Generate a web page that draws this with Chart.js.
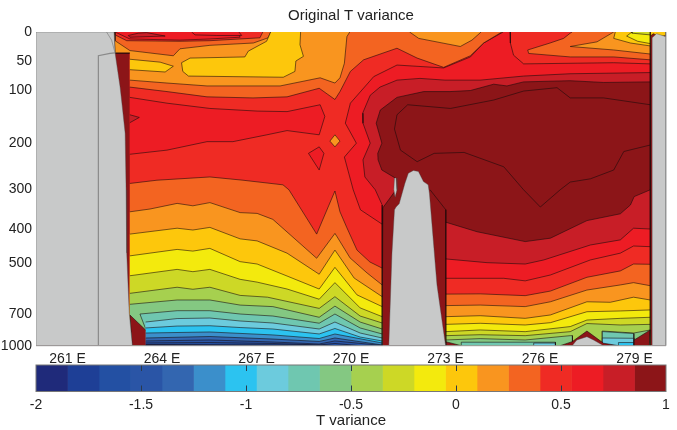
<!DOCTYPE html>
<html>
<head>
<meta charset="utf-8">
<title>Original T variance</title>
<script src="https://cdn.jsdelivr.net/npm/chart.js@4/dist/chart.umd.js"></script>
<style>
  body { margin: 0; background: #fff; }
  #wrap { position: relative; width: 677px; height: 430px; }
  canvas { position: absolute; left: 0; }
  #map { top: 0; }
  #bar { top: 360px; }
</style>
</head>
<body>
<div id="wrap">
  <canvas id="map" width="677" height="366"></canvas>
  <canvas id="bar" width="677" height="70"></canvas>
</div>
<script>
// colour bar
const levelColors = ['#1f2a7a', '#1e3f96', '#2350a3', '#2a55a6', '#3366b0', '#3b8fcb', '#2cc3f0',
    '#6ccbdd', '#6fc7b0', '#84c882', '#a6d04f', '#cdd826', '#f3ea0d', '#fdc70c', '#f9951f',
    '#f36421', '#ef2b24', '#ed1c24', '#c81e27', '#8c1518'];
const barEdges = [-2, -1.85, -1.7, -1.55, -1.4, -1.25, -1.1, -0.95, -0.8, -0.65, -0.5,
    -0.35, -0.2, -0.05, 0.1, 0.25, 0.4, 0.55, 0.7, 0.85, 1];

// axes
const lonTicks = [261, 264, 267, 270, 273, 276, 279];
const depthTicks = [0, 50, 100, 200, 300, 400, 500, 700, 1000];
const depthStretch = [0, 0.0924, 0.1849, 0.3529, 0.5005, 0.628, 0.7364, 0.899, 1];
// basin walls, contours end here without a stroke of their own
const wallLons = [262.98, 263.48, 270.99, 273.01, 279.5];

// contours as [lon, depth], warm first
const wholeSection = [[260, 0], [280, 0], [280, 1000], [260, 1000]];
const crimsonTop = [[262.48, 0], [279.5, 0], [279.5, 86], [278.02, 87], [276.95, 84], [275.48, 86], [274.95, 93], [274.53, 90], [273.79, 101], [273.14, 103], [272.31, 103], [271.46, 114], [270.93, 138], [270.8, 163], [270.98, 201], [270.85, 223], [270.86, 237], [270.98, 259], [271.4, 276], [271.43, 302], [271.01, 347], [270.99, 1000], [262.98, 1000], [262.98, 36], [262.51, 36]];
const crimsonRight = [[273.01, 383], [274, 408], [275.53, 437], [276.33, 427], [277.49, 379], [278.55, 362], [278.87, 340], [278.99, 319], [279.5, 302], [279.5, 1000], [273.01, 1000]];
const coreInner = [[279.5, 128], [278.02, 115], [276.96, 115], [276.54, 96], [275.48, 102], [274.53, 119], [273.16, 135], [271.8, 128], [271.46, 147], [271.38, 174], [271.57, 216], [272.1, 241], [272.64, 223], [273.59, 221], [274.85, 252], [275.48, 302], [276.01, 345], [276.64, 302], [276.96, 285], [277.6, 278], [278.34, 259], [278.66, 219], [279.5, 205]];
const brightTop = [[262.48, 0], [279.5, 0], [279.5, 70], [276.95, 72], [275.48, 76], [274.1, 83], [272.98, 83], [272.19, 80], [271.46, 83], [270.92, 95], [270.61, 110], [270.37, 144], [270.38, 163], [270.61, 201], [270.38, 237], [270.44, 274], [270.77, 302], [270.99, 340], [270.99, 1000], [262.98, 1000], [262.98, 36], [262.51, 36]];
const brightRight = [[273.01, 488], [274.32, 499], [275.53, 504], [276.12, 491], [277.6, 447], [278.55, 432], [278.97, 398], [279.5, 400]];
const redLeft = [[274.83, 0], [274.21, 19], [273.79, 43], [272.94, 62], [271.46, 57], [270.72, 77], [269.98, 125], [269.82, 163], [270.17, 201], [269.79, 231], [270.07, 302], [270.3, 352], [270.99, 388], [270.99, 1000], [262.98, 1000], [262.98, 36], [262.51, 36], [262.48, 0]];
const redTopRight = [[275.05, 0], [275.06, 19], [275.16, 40], [275.48, 55], [278.34, 53], [279.5, 55], [279.5, 0]];
const redRight = [[273.01, 560], [274.85, 560], [275.53, 570], [276.33, 547], [277.6, 491], [278.55, 471], [278.97, 450], [279.5, 452]];
const brightBlob = [[262.98, 114], [264.16, 125], [265.52, 135], [267.02, 140], [267.97, 141], [269.02, 128], [269.17, 150], [268.99, 185], [267.97, 177], [267.33, 185], [266.25, 198], [265.43, 198], [264.16, 216], [262.98, 225]];
const crimsonNotch = [[262.98, 147], [263.28, 152], [262.98, 162]];
const brightTriangle = [[268.65, 223], [268.99, 209], [269.14, 223], [268.99, 259]];
const orangeDiamond = [[269.33, 197], [269.49, 185], [269.65, 197], [269.49, 209]];

const level16Top = [[262.48, 0], [274.79, 0], [274.21, 19], [273.79, 41], [272.94, 61], [272.1, 45], [271.46, 28], [270.4, 48], [269.98, 68], [269.65, 103], [269.49, 118], [268.99, 97], [267.97, 113], [266.89, 115], [265.43, 113], [264.16, 103], [262.98, 95], [262.98, 36], [262.51, 36]];
const level16Tongue = [[275.61, 31], [276.32, 19], [276.75, 11], [276.96, 2], [277.02, 0], [279.5, 0], [279.5, 48], [278.34, 43], [276.96, 43], [275.64, 37]];
const level16Low = [[262.98, 288], [263.84, 281], [265.52, 274], [266.57, 281], [267.84, 291], [268.03, 302], [268.91, 415], [269.49, 305], [269.65, 357], [269.87, 397], [270.19, 462], [270.6, 497], [270.99, 520]];
const level16Right = [[273.01, 622], [274.1, 621], [275.53, 628], [276.33, 610], [277.49, 556], [278.55, 531], [278.97, 504], [279.5, 505]];

const level15Top = [[262.48, 0], [269.96, 0], [269.87, 8], [269.79, 54], [269.65, 79], [269.49, 88], [269.02, 79], [267.75, 93], [265.43, 93], [264.16, 88], [262.98, 83], [262.98, 36], [262.51, 36]];
const level15Blob = [[271.86, 0], [272.15, 11], [273.47, 25], [273.84, 14], [274.13, 0]];
const level15Tongue = [[276.96, 25], [277.81, 17], [278.34, 0], [279.5, 0], [279.5, 38], [278.34, 31]];
const level15Low = [[262.98, 357], [263.62, 350], [264.48, 336], [264.98, 342], [265.52, 334], [266.48, 359], [267.02, 361], [267.52, 376], [268.91, 486], [269.49, 413], [269.56, 423], [269.97, 485], [270.51, 539], [270.99, 586]];
const level15Right = [[273.01, 667], [274.1, 665], [275.53, 671], [276.33, 652], [277.49, 606], [278.55, 586], [278.97, 577], [279.5, 589]];

const surface16 = [[262.51, 0], [262.51, 15], [262.98, 32], [264.36, 41], [264.57, 29], [265.52, 23], [266.9, 19], [267.37, 10], [267.45, 0]];
const surface17 = [[262.51, 0], [262.51, 5], [262.88, 15], [264.57, 16], [265.52, 15], [267.11, 10], [267.2, 0]];
const surface18 = [[262.51, 0], [262.98, 12], [264.57, 14], [265.52, 12], [266.48, 9], [266.41, 0]];
const surface19 = [[262.93, 6], [263.25, 2], [263.51, 1], [264.1, 7], [262.98, 9]];
const surface18b = [[264.94, 0], [265.05, 5], [265.74, 6], [266.53, 6], [266.44, 0]];

const level14Big = [[267.45, 0], [267.32, 16], [266.74, 33], [266.63, 43], [264.89, 45], [264.62, 53], [264.66, 68], [264.84, 76], [267.85, 78], [268.22, 68], [268.25, 50], [268.49, 42], [268.38, 22], [268.4, 0]];
const level14Small = [[262.98, 47], [263.94, 52], [264.36, 59], [264.1, 69], [262.98, 65]];
const level14TopRight = [[278.39, 0], [278.34, 11], [278.87, 19], [279.5, 24], [279.5, 0]];
const level14Corner = [[279.5, 0], [280, 0], [280, 6], [279.8, 8], [279.6, 3], [279.5, 7]];
const level14Low = [[262.98, 415], [264.48, 398], [264.98, 403], [265.52, 396], [266.48, 429], [267.02, 435], [267.97, 471], [268.99, 544], [269.49, 462], [270.1, 559], [270.99, 632]];
const level14Right = [[273.01, 725], [274.1, 716], [275.53, 741], [276.33, 709], [277.49, 652], [278.23, 654], [278.97, 634], [279.5, 645]];

const level13TopRight = [[278.92, 0], [278.75, 7], [279.1, 16], [279.5, 20], [279.5, 0]];
const level13Low = [[262.98, 479], [264.48, 460], [264.98, 465], [265.52, 457], [266.48, 496], [267.02, 504], [267.97, 551], [268.99, 602], [269.49, 517], [270.19, 625], [270.99, 671]];
const level13Right = [[273.01, 798], [274.1, 788], [275.53, 804], [276.33, 782], [277.49, 691], [278.55, 688], [279.5, 684]];

const level12TopRight = [[278.92, 0], [278.92, 2], [279.5, 5], [279.5, 0]];
const level12Low = [[262.98, 550], [264.48, 525], [264.98, 534], [265.52, 525], [266.48, 564], [267.02, 575], [267.97, 602], [268.99, 642], [269.49, 577], [270.29, 676], [270.99, 725]];
const level12Right = [[273.01, 867], [274.1, 851], [275.53, 867], [276.96, 819], [277.49, 757], [278.55, 741], [279.5, 731]];

const level11Low = [[262.98, 619], [264.48, 595], [264.98, 603], [265.52, 595], [266.48, 627], [267.35, 634], [268.99, 678], [269.49, 632], [270.29, 719], [270.99, 785]];
const level11Right = [[273.01, 905], [274.1, 896], [275.53, 905], [276.96, 867], [277.49, 790], [278.55, 804], [279.5, 798]];

const level10Low = [[262.98, 662], [264.48, 645], [265.52, 645], [266.48, 665], [267.52, 671], [268.99, 731], [269.49, 669], [270.29, 776], [270.99, 842]];
const level10RightA = [[273.01, 946], [274.1, 933], [275.53, 946], [276.96, 905], [277.03, 905]];
const level10RightB = [[277.97, 861], [278.98, 880], [279.5, 851]];

const level9Low = [[263.48, 840], [263.3, 700], [264.48, 687], [265.52, 687], [266.48, 700], [267.52, 719], [268.99, 787], [269.49, 700], [270.29, 832], [270.99, 889]];
const level9RightA = [[273.5, 967], [276.49, 967]];
const level9RightB = [[277.98, 866], [278.98, 885]];
const level8Low = [[263.48, 776], [264.48, 743], [265.52, 738], [266.48, 766], [267.52, 785], [268.99, 842], [269.49, 776], [270.29, 880], [270.99, 927]];
const level8RightA = [[275.8, 975], [276.49, 975]];
const level8RightB = [[277.98, 927], [278.98, 930]];
const level7Low = [[263.48, 832], [264.48, 814], [265.52, 811], [266.48, 828], [267.52, 842], [268.99, 889], [269.49, 837], [270.29, 918], [270.99, 955]];
const level7RightB = [[278.49, 970], [278.98, 970]];
const level6Low = [[263.48, 880], [265.52, 870], [267.52, 898], [268.99, 932], [269.49, 889], [270.99, 974]];
const level5Low = [[263.48, 927], [265.52, 913], [267.52, 937], [268.99, 960], [269.49, 927], [270.99, 993]];
const level4Low = [[263.48, 955], [265.52, 946], [267.52, 965], [268.99, 984], [269.49, 955], [270.99, 998]];
const level3Low = [[263.48, 974], [265.52, 970], [267.52, 979], [268.99, 993], [269.49, 979], [270.29, 1000]];
const level2Low = [[263.48, 989], [268, 993], [270, 1000]];
const level1Low = [[263.48, 995], [268, 1000]];

// warm pockets sitting on the sea floor
const floorLeftPocket = [[262.98, 709], [263.48, 851], [263.48, 1000], [263.05, 1000]];
const floorPocketA = [[273.01, 962], [273.5, 1000], [273.01, 1000]];
const floorPocketB = [[276.64, 1000], [277.02, 962], [277.49, 861], [278.02, 977], [278.5, 1000]];
const floorPocketC = [[278.99, 1000], [278.99, 946], [279.5, 851], [279.47, 1000]];

// land
const landLeft = [[260, 0], [262.48, 0], [262.51, 36], [262.67, 95], [262.74, 132], [262.83, 182], [262.86, 302], [262.88, 470], [262.96, 696], [263.06, 1000], [260, 1000]];
const landRidge = [[271.2, 1000], [271.3, 472], [271.38, 352], [271.43, 345], [271.53, 337], [271.71, 288], [271.82, 266], [271.98, 260], [272.14, 262], [272.3, 284], [272.45, 291], [272.49, 311], [272.56, 378], [272.73, 586], [272.99, 974], [273.01, 1000]];
const landSliver = [[271.38, 276], [271.43, 276], [271.46, 302], [271.4, 320], [271.36, 302]];
const landBump = [[277.02, 1000], [277.17, 946], [277.49, 915], [277.7, 946], [278.02, 1000]];
const landRight = [[279.56, 1000], [279.56, 10], [279.7, 3], [280, 8], [280, 1000]];

// lines with no fill
const wallLeftRidge = [[270.99, 340], [270.99, 1000]];
const wallRightRidge = [[272.51, 302], [273.01, 352], [273.01, 1000]];
const wallEast = [[279.5, 0], [279.5, 1000]];
const shelfLineA = [[262.24, 0], [262.4, 14], [262.51, 36]];
const shelfLineB = [[262.51, 36], [262.35, 37], [261.98, 41], [261.98, 1000]];

const lineColor = 'rgba(25,10,10,0.72)';
const landColor = '#c8c9c9';

function toFloor(pts) {
    return pts.concat([[pts[pts.length - 1][0], 1000], [pts[0][0], 1000]]);
}

// painted in this order, [colour level, outline]
const layers = [
    [20, wholeSection],
    [19, crimsonTop], [19, crimsonRight], [20, coreInner],
    [18, brightTop], [18, toFloor(brightRight)],
    [17, redLeft], [17, redTopRight], [17, toFloor(redRight)],
    [18, brightBlob], [19, crimsonNotch], [18, brightTriangle], [15, orangeDiamond],
    [16, level16Top], [16, level16Tongue], [16, toFloor(level16Low)], [16, toFloor(level16Right)],
    [15, level15Top], [15, level15Blob], [15, level15Tongue], [15, toFloor(level15Low)], [15, toFloor(level15Right)],
    [16, surface16], [17, surface17], [18, surface18], [19, surface19], [18, surface18b],
    [14, level14Big], [14, level14Small], [14, level14TopRight], [14, level14Corner], [14, toFloor(level14Low)], [14, toFloor(level14Right)],
    [13, level13TopRight], [13, toFloor(level13Low)], [13, toFloor(level13Right)],
    [12, level12TopRight], [12, toFloor(level12Low)], [12, toFloor(level12Right)],
    [11, toFloor(level11Low)], [11, toFloor(level11Right)],
    [10, toFloor(level10Low)], [10, toFloor(level10RightA)], [10, toFloor(level10RightB)],
    [9, toFloor(level9Low)], [9, toFloor(level9RightA)], [9, toFloor(level9RightB)],
    [8, toFloor(level8Low)], [8, toFloor(level8RightA)], [8, toFloor(level8RightB)],
    [7, toFloor(level7Low)], [7, toFloor(level7RightB)],
    [6, toFloor(level6Low)], [5, toFloor(level5Low)], [4, toFloor(level4Low)],
    [3, toFloor(level3Low)], [2, toFloor(level2Low)], [1, toFloor(level1Low)],
    [20, floorLeftPocket], [20, floorPocketA], [20, floorPocketB], [20, floorPocketC]
];
const landShapes = [landLeft, landRidge, landSliver, landBump, landRight];
const wallLines = [wallLeftRidge, wallRightRidge, wallEast];
const shelfLines = [shelfLineA, shelfLineB];

// depth axis is stretched near the surface
class DepthScale extends Chart.LinearScale {
    getPixelForValue(value) {
        let i = 1;
        while (i < depthTicks.length - 1 && value > depthTicks[i]) i++;
        const t = (value - depthTicks[i - 1]) / (depthTicks[i] - depthTicks[i - 1]);
        const f = depthStretch[i - 1] + t * (depthStretch[i] - depthStretch[i - 1]);
        return this.top + f * (this.bottom - this.top);
    }
}
DepthScale.id = 'depth';
DepthScale.defaults = Chart.LinearScale.defaults;
Chart.register(DepthScale);

Chart.defaults.font.family = '"Liberation Sans", Arial, sans-serif';
Chart.defaults.font.size = 14;
Chart.defaults.color = '#222';
Chart.defaults.animation = false;

// no stroke along the walls, the top or the floor
function hideEdge(c) {
    const a = c.p0.parsed, b = c.p1.parsed;
    if (a.x === b.x && wallLons.includes(a.x)) return 'transparent';
    if (a.y === b.y && (a.y === 0 || a.y === 1000)) return 'transparent';
    return undefined;
}

function toPoints(pts) {
    return pts.map(p => ({x: p[0], y: p[1]}));
}

function filled(pts, fillColor, stroke, width) {
    return {
        data: toPoints(pts.concat([pts[0]])),
        showLine: true,
        fill: 'shape',
        backgroundColor: fillColor,
        borderColor: stroke,
        borderWidth: width,
        pointRadius: 0
    };
}

function openLine(pts, stroke, width, segment) {
    return {
        data: toPoints(pts),
        showLine: true,
        fill: false,
        borderColor: stroke,
        borderWidth: width,
        pointRadius: 0,
        segment: segment
    };
}

// fills and strokes are separate, a styled segment would break the fill
const mapSets = [];
layers.forEach((l, i) => {
    mapSets.push(filled(l[1], levelColors[l[0] - 1], 'transparent', 0));
    if (i > 0) mapSets.push(openLine(l[1].concat([l[1][0]]), lineColor, 0.8, {borderColor: hideEdge}));
});
wallLines.forEach(pts => mapSets.push(openLine(pts, lineColor, 0.8)));
landShapes.forEach(pts => mapSets.push(filled(pts, landColor, 'rgba(70,70,70,0.55)', 0.7)));
shelfLines.forEach((pts, i) => mapSets.push(openLine(pts, '#8a8a8a', i === 1 ? 1.2 : 0.8)));
// chart.js paints the first dataset last
mapSets.reverse();

const mapFrame = {
    id: 'mapFrame',
    afterDraw(chart) {
        const {ctx, chartArea: a} = chart;
        ctx.save();
        ctx.strokeStyle = '#9c9c9c';
        ctx.lineWidth = 1;
        ctx.beginPath();
        ctx.moveTo(a.left, a.bottom);
        ctx.lineTo(a.right, a.bottom);
        ctx.lineTo(a.right, a.top);
        ctx.stroke();
        ctx.restore();
    }
};

new Chart(document.getElementById('map'), {
    type: 'scatter',
    data: {datasets: mapSets},
    plugins: [mapFrame],
    options: {
        responsive: false,
        layout: {padding: {right: 11}},
        plugins: {
            legend: {display: false},
            tooltip: {enabled: false},
            title: {
                display: true,
                fullSize: false,
                text: 'Original T variance',
                font: {size: 15, weight: 'normal'},
                padding: {top: 7, bottom: 7}
            }
        },
        scales: {
            x: {
                type: 'linear',
                min: 260,
                max: 280,
                grid: {display: false, drawTicks: false},
                border: {display: false},
                afterFit: s => { s.height = 20.3; },
                afterBuildTicks: s => { s.ticks = lonTicks.map(v => ({value: v})); },
                ticks: {padding: 5, maxRotation: 0, autoSkip: false, callback: v => v + ' E'}
            },
            y: {
                type: 'depth',
                min: 0,
                max: 1000,
                grid: {display: false, drawTicks: false},
                border: {display: false},
                afterFit: s => { s.width = 36; },
                afterBuildTicks: s => { s.ticks = depthTicks.map(v => ({value: v})); },
                ticks: {padding: 4, autoSkip: false, callback: v => String(v)}
            }
        }
    }
});

const barFrame = {
    id: 'barFrame',
    afterDraw(chart) {
        const {ctx, chartArea: a} = chart;
        ctx.save();
        ctx.strokeStyle = '#777';
        ctx.lineWidth = 1;
        ctx.strokeRect(a.left, a.top, a.right - a.left, a.bottom - a.top);
        ctx.restore();
    }
};

new Chart(document.getElementById('bar'), {
    type: 'bar',
    data: {
        labels: [''],
        datasets: levelColors.map((c, i) => ({
            data: [[barEdges[i], barEdges[i + 1]]],
            backgroundColor: c,
            borderWidth: 0,
            barPercentage: 1,
            categoryPercentage: 1,
            grouped: false
        }))
    },
    plugins: [barFrame],
    options: {
        responsive: false,
        indexAxis: 'y',
        layout: {padding: {top: 5, right: 11, left: 36}},
        plugins: {legend: {display: false}, tooltip: {enabled: false}},
        scales: {
            y: {display: false},
            x: {
                type: 'linear',
                min: -2,
                max: 1,
                afterFit: s => { s.height = 38.5; },
                grid: {
                    z: 1,
                    drawTicks: false,
                    color: c => (c.tick && (c.tick.value === -2 || c.tick.value === 1)) ? 'transparent' : '#2b3a4a'
                },
                border: {display: false, dash: [6, 14.5]},
                ticks: {stepSize: 0.5, padding: 5, maxRotation: 0, callback: v => String(v)},
                title: {display: true, text: 'T variance', font: {size: 15}, padding: {top: 0, bottom: 0}}
            }
        }
    }
});
</script>
</body>
</html>
